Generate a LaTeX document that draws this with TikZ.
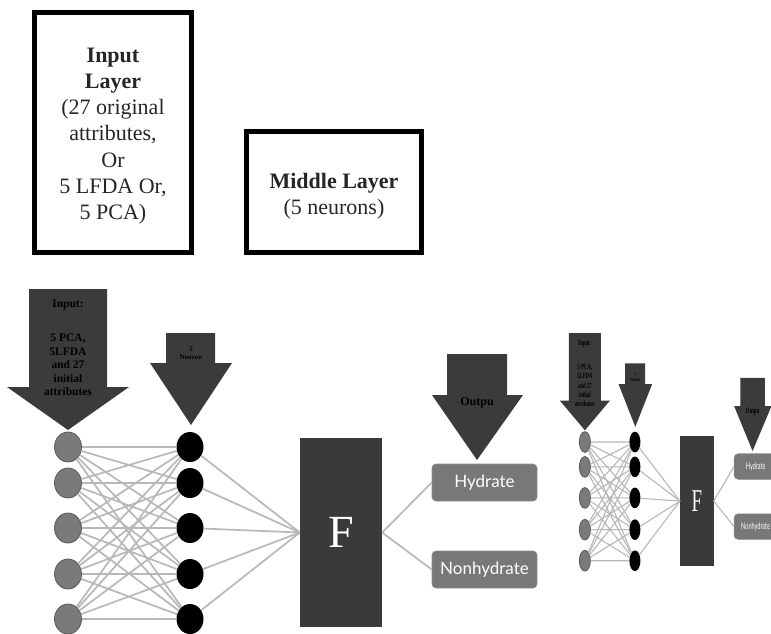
\documentclass[tikz,border=0pt]{standalone}
\usepackage{fontspec}
\setmainfont{Liberation Serif}
\newfontfamily\gillfont{Lato}
\usetikzlibrary{shapes.geometric}
\definecolor{arrowfill}{HTML}{3B3B3B}
\definecolor{fboxfill}{HTML}{3A3A3A}
\definecolor{ingray}{HTML}{7A7A7A}
\definecolor{inborder}{HTML}{5A5A5A}
\definecolor{linegray}{HTML}{B8B8B8}
\definecolor{outfill}{HTML}{787878}
\definecolor{outborder}{HTML}{8C8C8C}
\tikzset{
  layerbox/.style={draw=black, line width=5pt, fill=white},
  layertext/.style={align=center, font=\fontsize{22pt}{26.2pt}\selectfont, text=black!85},
  arrowshape/.style={fill=arrowfill},
  arrowtext/.style={align=center, text=black, font=\bfseries\fontsize{11.5pt}{13.5pt}\selectfont, inner sep=0pt},
  innode/.style={ellipse, fill=ingray, draw=inborder, line width=0.8pt, minimum width=27pt, minimum height=30pt, inner sep=0pt},
  midnode/.style={ellipse, fill=black, minimum width=27pt, minimum height=30pt, inner sep=0pt},
  fbox/.style={rectangle, fill=fboxfill, minimum width=82pt, minimum height=189pt, inner sep=0pt, text=white, font=\fontsize{46pt}{50pt}\selectfont},
  outfont/.style={font=\gillfont\fontsize{17pt}{20pt}\selectfont},
  outbox/.style={rectangle, rounded corners=4pt, fill=outfill, draw=outborder, line width=0.6pt, minimum width=105pt, minimum height=37pt, inner sep=0pt, text=white, outfont},
  netline/.style={draw=linegray, line width=1.7pt},
  net/.pic={
    % arrows
    \fill[arrowshape] (29,289) -- (107,289) -- (107,387) -- (129,387) -- (68,430) -- (7,387) -- (29,387) -- cycle;
    \fill[arrowshape] (166,333) -- (215,333) -- (215,363) -- (232,363) -- (191,425) -- (150,363) -- (166,363) -- cycle;
    \fill[arrowshape] (447,354) -- (507,354) -- (507,395) -- (523,395) -- (477,460) -- (432,395) -- (447,395) -- cycle;
    \node[arrowtext] (-intitle) at (68,305) {Input:};
    \node[arrowtext, anchor=north] (-inlist) at (68,334) {5 PCA,\\5LFDA\\and 27\\initial\\attributes};
    \node[arrowtext, font=\bfseries\fontsize{7pt}{8.5pt}\selectfont] (-neutext) at (191,353) {5\\Neuron};
    \node[arrowtext, font=\bfseries\fontsize{12pt}{14pt}\selectfont] (-outtext) at (477,403) {Outpu};
    % neurons
    \foreach \i/\y in {1/447,2/483,3/528,4/574,5/619}{
      \node[innode] (-in\i) at (68,\y) {};
      \node[midnode] (-mid\i) at (190,\y) {};
    }
    \node[fbox] (-F) at (341,532.5) {F};
    \node[outbox] (-hyd) at (484.5,482.5) {Hydrate};
    \node[outbox] (-non) at (484.5,569.5) {Nonhydrate};
    % connectors
    \foreach \i in {1,...,5}{
      \foreach \j in {1,...,5}{
        \draw[netline] (-in\i) -- (-mid\j);
      }
      \draw[netline] (-mid\i) -- (-F.west);
    }
    \draw[netline] (-F.east) -- (-hyd.west);
    \draw[netline] (-F.east) -- (-non.west);
  }
}
\begin{document}
\begin{tikzpicture}[x=1pt, y=-1pt]
  \useasboundingbox[fill=white] (0,0) rectangle (771,633);
  % top legend boxes
  \draw[layerbox] (34.5,12.5) rectangle (191.5,252.5);
  \node[layertext] (inputlabel) at (113,136) {\textbf{Input}\\\textbf{Layer}\\(27 original\\attributes,\\Or\\5 LFDA Or,\\5 PCA)};
  \draw[layerbox] (246.5,131.5) rectangle (421.5,252.5);
  \node[layertext] (middlelabel) at (334,196) {\textbf{Middle Layer}\\(5 neurons)};
  % main network
  \pic (m) at (0,0) {net};
  % small copy
  \begin{scope}
    \clip (0,0) rectangle (771,633);
    \begin{scope}[shift={(557,133.6)}, xscale=0.41, yscale=0.69, transform shape,
        netline/.style={draw=linegray, line width=1.1pt},
        outfont/.style={font=\gillfont\fontsize{13.5pt}{16pt}\selectfont}]
      \pic (s) at (0,0) {net};
    \end{scope}
  \end{scope}
\end{tikzpicture}
\end{document}
